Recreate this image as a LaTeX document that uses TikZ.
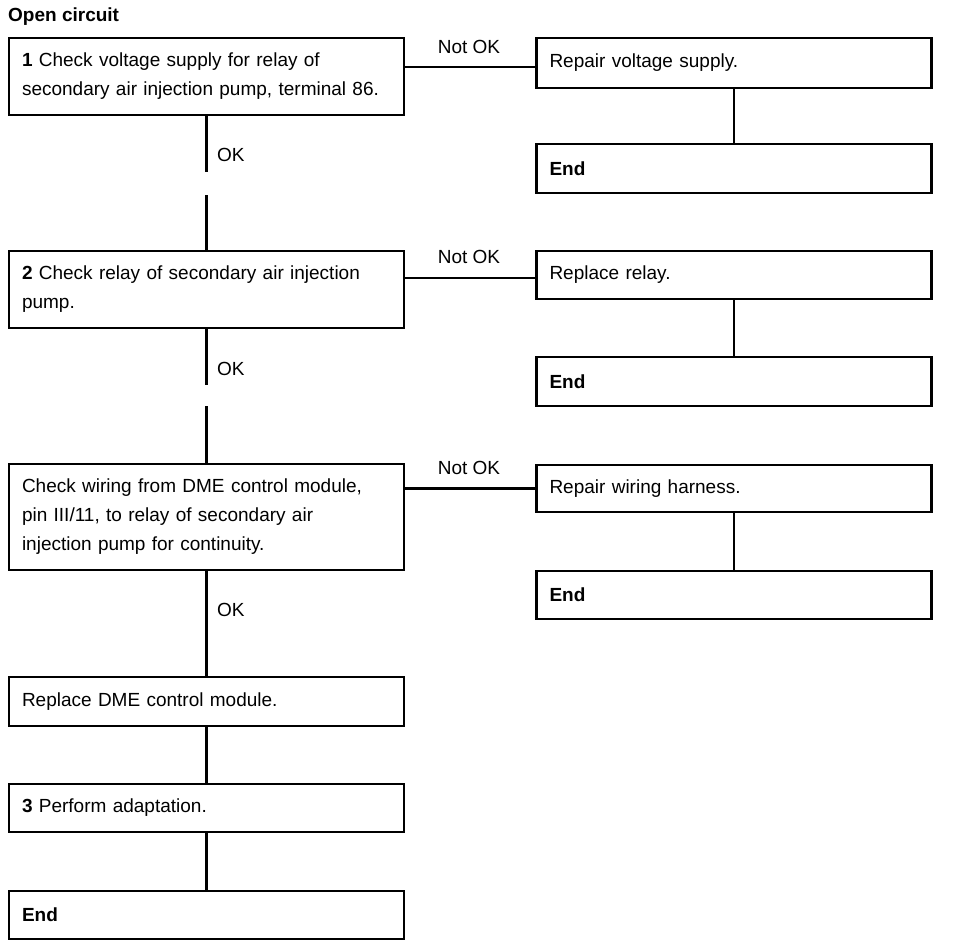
\documentclass[tikz,border=0pt]{standalone}
\usepackage{fontspec}
\setmainfont{Liberation Sans}
\usepackage{xcolor}
\usepackage{tikz}
\definecolor{chartInk}{HTML}{000000}
\definecolor{chartWhite}{HTML}{FFFFFF}
\usetikzlibrary{positioning,calc}

\begin{document}
\begin{tikzpicture}[
  x=1pt, y=-1pt,
  font=\fontsize{19}{29}\selectfont,
  stepbox/.style={draw=chartInk, line width=2.4pt, fill=chartWhite, rectangle, text width=369pt, inner xsep=13pt, inner ysep=0pt, align=left, text=chartInk},
  link/.style={line width=2.2pt, chartInk},
  verdict/.style={inner sep=0pt, text=chartInk}
]
\useasboundingbox (0,0) rectangle (960,948);

% Title
\node[verdict, anchor=west, font=\fontsize{19}{29}\selectfont\bfseries] (title) at (8,17) {Open circuit};

% Test steps (left column)
\node[stepbox, minimum height=77pt] (check1) at (206.5,76.5) {\textbf{1} Check voltage supply for relay of\\secondary air injection pump, terminal 86.};
\node[stepbox, minimum height=77pt] (check2) at (206.5,289.5) {\textbf{2} Check relay of secondary air injection\\pump.};
\node[stepbox, minimum height=106pt] (check3) at (206.5,517) {Check wiring from DME control module,\\pin III/11, to relay of secondary air\\injection pump for continuity.};
\node[stepbox, minimum height=49pt] (replDme) at (206.5,701.5) {Replace DME control module.};
\node[stepbox, minimum height=48pt] (adapt) at (206.5,808) {\textbf{3} Perform adaptation.};
\node[stepbox, minimum height=48pt] (endMain) at (206.5,915) {\textbf{End}};

% Repairs (right column)
\node[stepbox, minimum height=50pt] (repSupply) at (734,63) {Repair voltage supply.};
\node[stepbox, minimum height=49pt] (end1) at (734,168.5) {\textbf{End}};
\node[stepbox, minimum height=48pt] (repRelay) at (734,275) {Replace relay.};
\node[stepbox, minimum height=49pt] (end2) at (734,381.5) {\textbf{End}};
\node[stepbox, minimum height=47pt] (repWiring) at (734,488.5) {Repair wiring harness.};
\node[stepbox, minimum height=48pt] (end3) at (734,595) {\textbf{End}};

% OK path
\coordinate (gap1top) at (206.5,172);
\coordinate (gap1bot) at (206.5,195);
\coordinate (gap2top) at (206.5,385);
\coordinate (gap2bot) at (206.5,406);
\draw[link] (check1.south) -- (gap1top);
\draw[link] (gap1bot) -- (check2.north);
\draw[link] (check2.south) -- (gap2top);
\draw[link] (gap2bot) -- (check3.north);
\draw[link] (check3.south) -- (replDme.north);
\draw[link] (replDme.south) -- (adapt.north);
\draw[link] (adapt.south) -- (endMain.north);
\node[verdict, anchor=west] (ok1) at (217,155) {OK};
\node[verdict, anchor=west] (ok2) at (217,369) {OK};
\node[verdict, anchor=west] (ok3) at (217,610) {OK};

% Not OK path
\draw[link] ([yshift=-4pt]check1.east |- repSupply.west) -- ([yshift=-4pt]repSupply.west);
\draw[link] ([yshift=-3pt]check2.east |- repRelay.west) -- ([yshift=-3pt]repRelay.west);
\draw[link] (check3.east |- repWiring.west) -- (repWiring.west);
\draw[link] (repSupply.south) -- (end1.north);
\draw[link] (repRelay.south) -- (end2.north);
\draw[link] (repWiring.south) -- (end3.north);
\node[verdict] (nok1) at (469,47) {Not OK};
\node[verdict] (nok2) at (469,257) {Not OK};
\node[verdict] (nok3) at (469,468) {Not OK};

\end{tikzpicture}
\end{document}
